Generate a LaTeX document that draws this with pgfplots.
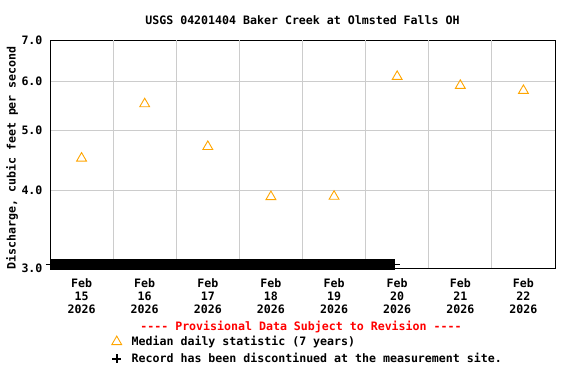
\documentclass[border=0pt]{standalone}
\usepackage{pgfplots}
\pgfplotsset{compat=1.18}
\usepackage{fontspec}
\setmainfont{DejaVu Sans Mono}[Ligatures=TeXOff]
\definecolor{medorange}{HTML}{FFA500}
\definecolor{gridgray}{HTML}{CCCCCC}
\newcommand\cf{\fontsize{11.6}{13}\selectfont\bfseries}
\begin{document}
\begin{tikzpicture}
\path[use as bounding box] (0,0) rectangle (576pt,384pt);
\begin{axis}[
  at={(50pt,116pt)}, anchor=south west,
  scale only axis, width=505pt, height=228pt,
  ymode=log, ymin=3, ymax=7,
  xmin=-0.5, xmax=7.5,
  ytick={3,4,5,6,7}, yticklabels={3.0,4.0,5.0,6.0,7.0},
  xtick={0,1,2,3,4,5,6,7},
  xticklabels={{Feb\\15\\2026},{Feb\\16\\2026},{Feb\\17\\2026},{Feb\\18\\2026},{Feb\\19\\2026},{Feb\\20\\2026},{Feb\\21\\2026},{Feb\\22\\2026}},
  xticklabel style={align=center, font=\cf, yshift=-7pt},
  yticklabel style={font=\cf, xshift=-4pt},
  extra x ticks={0.5,1.5,2.5,3.5,4.5,5.5,6.5},
  extra x tick labels={},
  extra x tick style={grid=major},
  ymajorgrids,
  major grid style={gridgray, line width=0.8pt},
  major tick length=0pt, minor tick length=0pt,
  axis line style={black, line width=0.8pt},
  clip=false,
  ylabel={Discharge, cubic feet per second},
  ylabel style={font=\cf, at={(axis description cs:-0.075,0.483)}, anchor=center},
  legend style={draw=none, fill=none, font=\cf, at={(axis description cs:0.122,-0.29)}, anchor=north west, row sep=2pt, inner sep=0pt,
    /tikz/every odd column/.append style={column sep=8pt}},
  legend cell align=left,
]
\addplot[black, line width=1pt, forget plot] coordinates {(-0.571,3.037) (5.05,3.037)};
\addplot[black, line width=10.5pt, forget plot] coordinates {(-0.5,3.037) (4.97,3.037)};
\addplot[only marks, mark=triangle, mark size=5.7pt, medorange, mark options={line width=0.9pt}]
  coordinates {(0,4.51) (1,5.52) (2,4.71) (3,3.91) (4,3.915) (5,6.11) (6,5.91) (7,5.80)};
\addlegendentry{Median daily statistic (7 years)}
\addlegendimage{only marks, mark=+, mark size=4.5pt, black, line width=2pt}
\addlegendentry{Record has been discontinued at the measurement site.}
\node[font=\cf, anchor=center] at (axis description cs:0.5,1.088) {USGS 04201404 Baker Creek at Olmsted Falls OH};
\node[font=\cf, text=red, anchor=center] at (axis description cs:0.497,-0.259) {---- Provisional Data Subject to Revision ----};
\end{axis}
\end{tikzpicture}
\end{document}
